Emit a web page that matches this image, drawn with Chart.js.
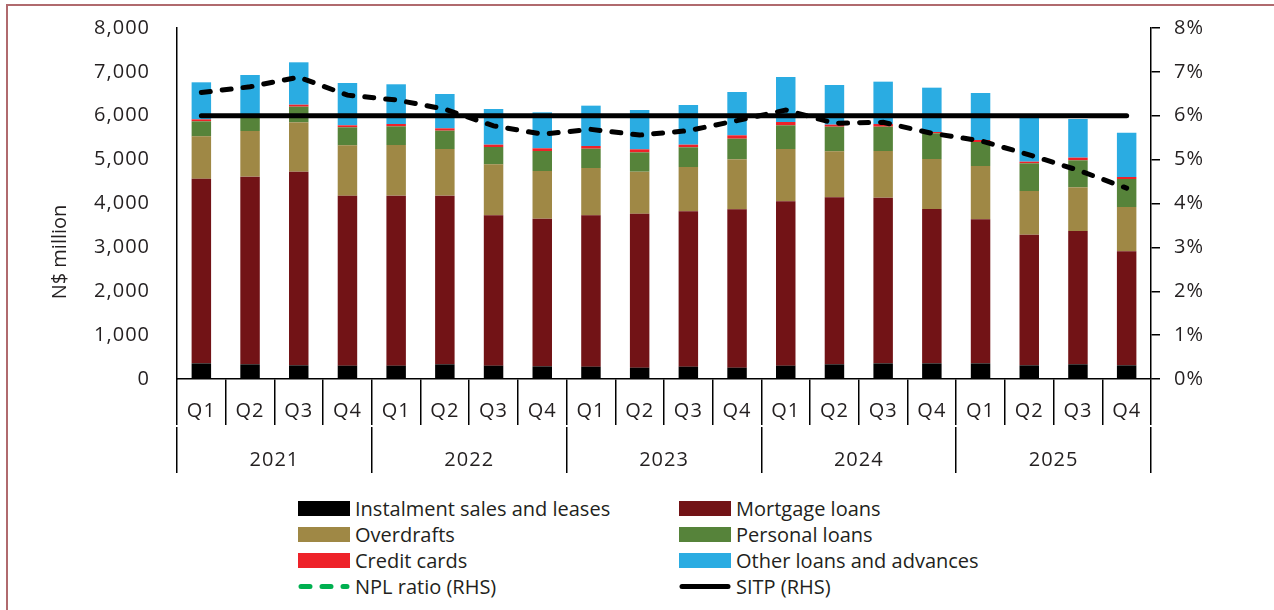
<!DOCTYPE html>
<html>
<head>
<meta charset="utf-8">
<script src="https://cdn.jsdelivr.net/npm/chart.js@4.4.1/dist/chart.umd.min.js"></script>
<style>
  html, body { margin: 0; padding: 0; background: #fff; }
  body { width: 1274px; height: 610px; position: relative; overflow: hidden; font-family: "Open Sans", sans-serif; }
  #frame { position: absolute; left: 6px; top: 4px; width: 1300px; height: 700px; border-left: 2px solid #b06a6e; border-top: 2px solid #b06a6e; }
  #wrap { position: absolute; left: 0; top: 0; width: 1274px; height: 490px; }
  #legend { position: absolute; left: 298px; top: 495px; width: 760px; }
  .item { position: absolute; height: 26px; display: flex; align-items: center; font-size: 20px; color: #231f20; white-space: nowrap; }
  .sw { width: 52px; height: 15px; margin-right: 5px; }
  .sw svg { display: block; }
</style>
</head>
<body>
<div id="frame"></div>
<div id="wrap"><canvas id="grafico"></canvas></div>
<div id="legend"></div>
<script>
var quarters = ['Q1','Q2','Q3','Q4','Q1','Q2','Q3','Q4','Q1','Q2','Q3','Q4','Q1','Q2','Q3','Q4','Q1','Q2','Q3','Q4'];
var years = ['2021','2022','2023','2024','2025'];

// non-performing loans by category, N$ million
var instalment = [357, 335, 312, 304, 304, 335, 304, 289, 281, 258, 281, 258, 304, 335, 357, 357, 357, 312, 335, 312];
var mortgage   = [4209, 4277, 4413, 3875, 3875, 3844, 3426, 3365, 3449, 3510, 3540, 3609, 3746, 3806, 3776, 3518, 3282, 2977, 3038, 2598];
var overdrafts = [965, 1040, 1125, 1147, 1154, 1063, 1163, 1087, 1079, 957, 1011, 1140, 1192, 1048, 1064, 1139, 1216, 996, 996, 1010];
var personal   = [342, 308, 357, 410, 426, 418, 395, 456, 440, 441, 449, 470, 540, 562, 554, 586, 547, 631, 615, 638];
var creditCards = [45, 45, 45, 46, 53, 53, 53, 61, 61, 69, 60, 77, 75, 46, 61, 30, 45, 37, 61, 46];
var otherLoans = [844, 924, 966, 964, 905, 783, 813, 820, 920, 896, 904, 987, 1026, 904, 965, 1010, 1071, 1037, 881, 1010];

// ratios, percent (RHS)
var nplRatio = [6.53, 6.66, 6.88, 6.47, 6.36, 6.15, 5.77, 5.58, 5.69, 5.56, 5.66, 5.89, 6.13, 5.83, 5.85, 5.6, 5.43, 5.11, 4.76, 4.35];
var sitp = [6, 6, 6, 6, 6, 6, 6, 6, 6, 6, 6, 6, 6, 6, 6, 6, 6, 6, 6, 6];

var txt = '#231f20';
var fnt = { family: '"Open Sans", sans-serif', size: 20 };

function barSet(label, data, color) {
    return { type: 'bar', label: label, data: data, backgroundColor: color, borderWidth: 0,
             yAxisID: 'y', stack: 'npl', order: 2, barPercentage: 0.4, categoryPercentage: 1 };
}

var datasets = [
    barSet('Instalment sales and leases', instalment, '#000000'),
    barSet('Mortgage loans', mortgage, '#721316'),
    barSet('Overdrafts', overdrafts, '#9f8845'),
    barSet('Personal loans', personal, '#56833a'),
    barSet('Credit cards', creditCards, '#ee2229'),
    barSet('Other loans and advances', otherLoans, '#2aace2'),
    { type: 'line', label: 'NPL ratio (RHS)', data: nplRatio, yAxisID: 'y1', borderColor: '#000',
      borderWidth: 5, borderDash: [9, 12], borderCapStyle: 'round', pointRadius: 0, tension: 0, order: 0, legendColor: '#00b050' },
    { type: 'line', label: 'SITP (RHS)', data: sitp, yAxisID: 'y1', borderColor: '#000',
      borderWidth: 5, borderCapStyle: 'round', pointRadius: 0, tension: 0, order: 1 }
];

// wider letter spacing for axis text; N$ million title a bit below the middle of the left axis
var axisText = {
    id: 'axisText',
    beforeDraw: function(chart) { chart.ctx.letterSpacing = '1px'; },
    afterDraw: function(chart) {
        var c = chart.ctx;
        c.save();
        c.translate(60, 252);
        c.rotate(-Math.PI / 2);
        c.fillStyle = txt;
        c.font = '20px "Open Sans", sans-serif';
        c.letterSpacing = '0px';
        c.textAlign = 'center';
        c.textBaseline = 'middle';
        c.fillText('N$ million', 0, 0);
        c.restore();
    }
};

// fixed box sizes so the plot area lands at x 177..1151, y 28..379
function fixY(width) {
    return function(s) { s.width = width; s.paddingTop = 28; s.paddingBottom = 0; };
}

var ctx = document.getElementById('grafico').getContext('2d');
var chart = new Chart(ctx, {
    data: { labels: quarters, datasets: datasets },
    plugins: [axisText],
    options: {
        responsive: true,
        maintainAspectRatio: false,
        animation: false,
        layout: { padding: { top: 0, bottom: 13, left: 0, right: 0 } },
        plugins: { legend: { display: false }, tooltip: { enabled: false } },
        scales: {
            x: {
                type: 'category', position: 'bottom', offset: true,
                grid: { offset: true, drawOnChartArea: false, drawTicks: true, tickLength: 46, color: '#000', lineWidth: 1.5 },
                border: { display: true, color: '#000', width: 1.5 },
                ticks: { color: txt, font: fnt, padding: -26, maxRotation: 0, autoSkip: false },
                afterFit: function(s) { s.height = 48; }
            },
            x2: {
                type: 'category', position: 'bottom', labels: years, offset: true,
                grid: { offset: true, drawOnChartArea: false, drawTicks: true, tickLength: 46, color: '#000', lineWidth: 1.5 },
                border: { display: false },
                ticks: { color: txt, font: fnt, padding: -25, maxRotation: 0, autoSkip: false },
                afterFit: function(s) { s.height = 50; }
            },
            y: {
                position: 'left', stacked: true, min: 0, max: 8000,
                ticks: { stepSize: 1000, color: txt, font: fnt, padding: 27,
                         callback: function(v) { return v.toLocaleString('en-US'); } },
                grid: { drawOnChartArea: false, drawTicks: false },
                border: { display: true, color: '#000', width: 1.5 },
                afterFit: fixY(177)
            },
            y1: {
                position: 'right', min: 0, max: 8,
                ticks: { stepSize: 1, color: txt, font: fnt, padding: 14,
                         callback: function(v) { return v + '%'; } },
                grid: { drawOnChartArea: false, drawTicks: true, tickLength: 9, color: '#000', lineWidth: 1.5 },
                border: { display: true, color: '#000', width: 1.5 },
                afterFit: fixY(1274 - 1151)
            }
        }
    }
});

// legend, two columns
var leg = document.getElementById('legend');
datasets.forEach(function(d, i) {
    var el = document.createElement('div');
    el.className = 'item';
    el.style.left = (i % 2 === 0 ? 0 : 381) + 'px';
    el.style.top = (Math.floor(i / 2) * 26) + 'px';
    var sw;
    if (d.type === 'bar') {
        sw = '<div class="sw" style="background:' + d.backgroundColor + '"></div>';
    } else {
        var col = d.legendColor || d.borderColor;
        var dash = d.borderDash ? ' stroke-dasharray="' + d.borderDash.join(' ') + '"' : '';
        sw = '<div class="sw"><svg width="52" height="15"><line x1="3" y1="7.5" x2="49" y2="7.5" stroke="' + col +
             '" stroke-width="5" stroke-linecap="round"' + dash + '/></svg></div>';
    }
    el.innerHTML = sw + '<span>' + d.label + '</span>';
    leg.appendChild(el);
});
</script>
</body>
</html>
